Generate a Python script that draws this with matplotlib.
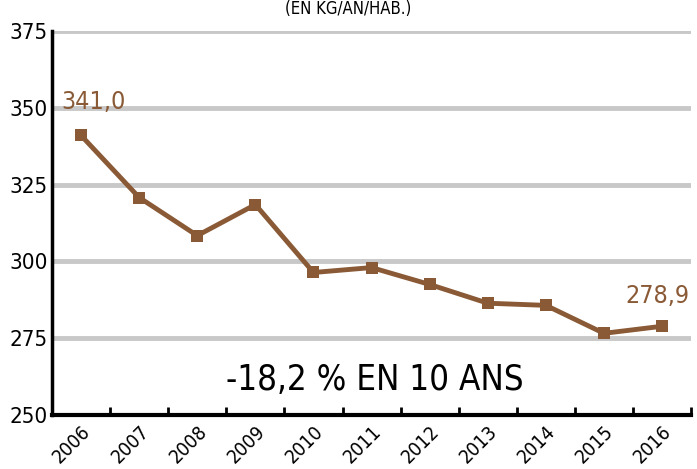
import numpy as np
import matplotlib.pyplot as plt
import matplotlib.transforms as mtransforms
from matplotlib import font_manager

# données (kg/an/hab.)
years = ["2006", "2007", "2008", "2009", "2010", "2011",
         "2012", "2013", "2014", "2015", "2016"]
values = [341.0, 320.8, 308.4, 318.5, 296.4, 298.0,
          292.5, 286.4, 285.7, 276.6, 278.9]
yticks = [250, 275, 300, 325, 350, 375]

# police étroite si dispo
narrow = [f for f in font_manager.fontManager.ttflist
          if "condensed" in f.stretch or "Narrow" in f.name or "Condensed" in f.name]
if narrow:
    plt.rcParams["font.family"] = [narrow[0].name, "DejaVu Sans"]
    plt.rcParams["font.stretch"] = narrow[0].stretch
else:
    plt.rcParams["font.family"] = ["DejaVu Sans"]

brown = "#8a5a36"

fig = plt.figure(figsize=(6.97, 4.69), dpi=100)
ax = fig.add_axes([0.0746, 0.115, 0.917, 0.819])

x = np.arange(len(years))
for yv in yticks[1:]:
    ax.axhline(yv, color="#c8c8c8", linewidth=3.5, zorder=1)

ax.plot(x, values, color=brown, linewidth=3.5, marker="s", markersize=9,
        markeredgewidth=0, zorder=3, solid_capstyle="round")

ax.text(x[0] - 0.34, values[0] + 7, "341,0", color=brown, fontsize=18,
        ha="left", va="bottom")
ax.text(x[-1] + 0.47, values[-1] + 6, "278,9", color=brown, fontsize=18,
        ha="right", va="bottom")
ax.text(5.05, 261.5, "-18,2 % EN 10 ANS", color="black", fontsize=25,
        ha="center", va="center")
fig.text(0.5, 1.0, "(EN KG/AN/HAB.)", fontsize=12, ha="center", va="top")

ax.set_xlim(-0.5, len(years) - 0.5)
ax.set_ylim(250, 375)
ax.set_yticks(yticks)
ax.set_yticklabels([str(v) for v in yticks], fontsize=16)
ax.tick_params(axis="y", length=0, pad=3)

ax.set_xticks(x)
ax.set_xticklabels(years, rotation=45, ha="right", rotation_mode="anchor",
                   fontsize=14)
shift = mtransforms.ScaledTranslation(17 / 100, 0, fig.dpi_scale_trans)
for lab in ax.get_xticklabels():
    lab.set_transform(lab.get_transform() + shift)
ax.set_xticks(np.arange(-0.5, len(years), 1), minor=True)
ax.tick_params(axis="x", which="major", length=0, pad=5)
ax.tick_params(axis="x", which="minor", length=6, width=2, direction="in")

for s in ["top", "right"]:
    ax.spines[s].set_visible(False)
ax.spines["left"].set_linewidth(2.5)
ax.spines["bottom"].set_linewidth(3)

plt.savefig("out.png")
